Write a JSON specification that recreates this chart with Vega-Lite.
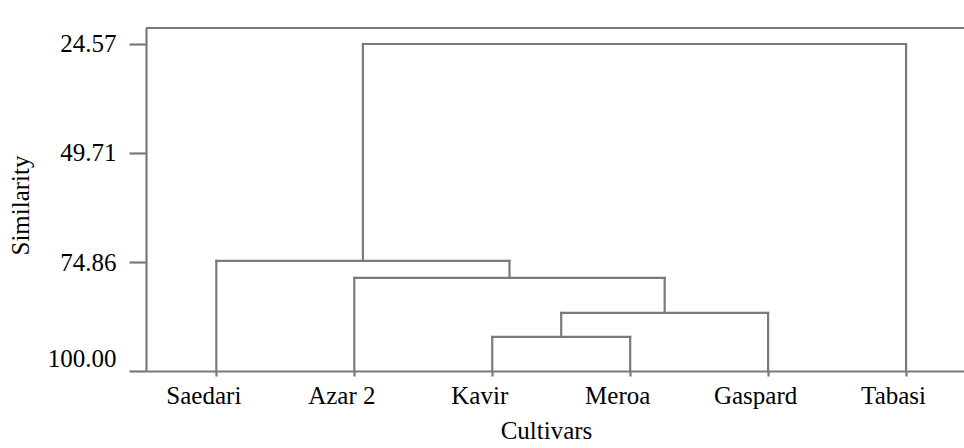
{
  "$schema": "https://vega.github.io/schema/vega-lite/v6.json",
  "autosize": "none",
  "width": 818,
  "height": 343,
  "padding": {"left": 146, "top": 28, "right": 0, "bottom": 77},
  "background": "white",
  "config": {
    "view": {"stroke": null},
    "font": "Liberation Serif"
  },
  "data": {
    "values": [
      {"seg": "Saedari", "x": 1, "x2": 1, "y": 100, "y2": 74.6},
      {"seg": "Azar 2", "x": 2, "x2": 2, "y": 100, "y2": 78.53},
      {"seg": "Kavir", "x": 3, "x2": 3, "y": 100, "y2": 92.15},
      {"seg": "Meroa", "x": 4, "x2": 4, "y": 100, "y2": 92.15},
      {"seg": "Gaspard", "x": 5, "x2": 5, "y": 100, "y2": 86.6},
      {"seg": "Tabasi", "x": 6, "x2": 6, "y": 100, "y2": 24.57},
      {"seg": "A-h", "x": 3, "x2": 4, "y": 92.15, "y2": 92.15},
      {"seg": "A-v", "x": 3.5, "x2": 3.5, "y": 92.15, "y2": 86.6},
      {"seg": "B-h", "x": 3.5, "x2": 5, "y": 86.6, "y2": 86.6},
      {"seg": "B-v", "x": 4.25, "x2": 4.25, "y": 86.6, "y2": 78.53},
      {"seg": "C-h", "x": 2, "x2": 4.25, "y": 78.53, "y2": 78.53},
      {"seg": "C-v", "x": 3.125, "x2": 3.125, "y": 78.53, "y2": 74.6},
      {"seg": "D-h", "x": 1, "x2": 3.125, "y": 74.6, "y2": 74.6},
      {"seg": "D-v", "x": 2.0625, "x2": 2.0625, "y": 74.6, "y2": 24.57},
      {"seg": "E-h", "x": 2.0625, "x2": 6, "y": 24.57, "y2": 24.57}
    ]
  },
  "layer": [
    {
      "mark": {"type": "rule", "color": "#7a7a7a", "strokeWidth": 2.2, "strokeCap": "square"},
      "encoding": {
        "x": {
          "field": "x", "type": "quantitative",
          "scale": {"domain": [0.49, 6.42], "nice": false, "zero": false},
          "axis": {
            "values": [1, 2, 3, 4, 5, 6],
            "labelExpr": "['', 'Saedari', 'Azar 2', 'Kavir', 'Meroa', 'Gaspard', 'Tabasi'][datum.value]",
            "grid": false,
            "domainColor": "#7a7a7a", "domainWidth": 2.2,
            "tickColor": "#7a7a7a", "tickWidth": 2.2, "tickSize": 5,
            "labelFont": "Liberation Serif", "labelFontSize": 25, "labelColor": "#000",
            "labelPadding": 7,
            "labelOffset": -13,
            "title": "Cultivars",
            "titleFont": "Liberation Serif", "titleFontSize": 25, "titleFontWeight": "normal", "titleColor": "#000",
            "titlePadding": 10,
            "titleX": 400
          }
        },
        "x2": {"field": "x2"},
        "y": {
          "field": "y", "type": "quantitative",
          "scale": {"domain": [100, 20.88], "nice": false, "zero": false},
          "axis": {
            "values": [24.57, 49.71, 74.86, 100],
            "format": ".2f",
            "grid": false,
            "domainColor": "#7a7a7a", "domainWidth": 2.2,
            "tickColor": "#7a7a7a", "tickWidth": 2.2, "tickSize": 17,
            "labelFont": "Liberation Serif", "labelFontSize": 25, "labelColor": "#000",
            "labelPadding": 13,
            "labelFlush": true,
            "title": "Similarity",
            "titleFont": "Liberation Serif", "titleFontSize": 25, "titleFontWeight": "normal", "titleColor": "#000",
            "titlePadding": 14,
            "titleY": 177
          }
        },
        "y2": {"field": "y2"}
      }
    },
    {
      "mark": {"type": "rule", "color": "#7a7a7a", "strokeWidth": 2.2},
      "encoding": {"y": {"datum": 20.88, "type": "quantitative"}}
    }
  ]
}
